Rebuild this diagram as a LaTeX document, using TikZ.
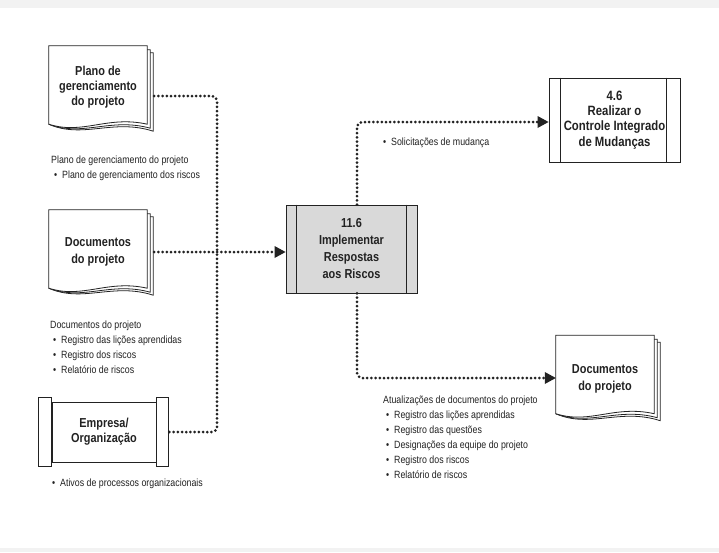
\documentclass[tikz,border=0pt]{standalone}
\usepackage{fontspec}
\setmainfont{Liberation Sans}
\newfontfamily\cond[FakeStretch=0.84]{Liberation Sans}
\usetikzlibrary{arrows.meta,calc}
\definecolor{ink}{HTML}{222222}
\definecolor{band}{HTML}{F2F2F2}
\definecolor{procfill}{HTML}{D9D9D9}
\newcommand\docpages[1]{%
  \draw[ink,line width=0.8pt,fill=white]
    (#1.south west) .. controls ($(#1.south west)+(34,15)$) and ($(#1.south east)+(-34,-6)$) .. ($(#1.south east)+(6,7)$)
    -- ($(#1.north east)+(6,7)$) -- ($(#1.north east)+(0,7)$);
  \draw[ink,line width=0.8pt,fill=white]
    (#1.south west) .. controls ($(#1.south west)+(34,13)$) and ($(#1.south east)+(-37,-7)$) .. ($(#1.south east)+(3,4)$)
    -- ($(#1.north east)+(3,4)$) -- ($(#1.north east)+(0,4)$);
  \draw[ink,line width=0.8pt,fill=white]
    (#1.south west) .. controls ($(#1.south west)+(34,11)$) and ($(#1.south east)+(-40,-9)$) .. (#1.south east)
    -- (#1.north east) -- (#1.north west) -- cycle;
}
\tikzset{
  titletext/.style={font=\cond\bfseries\fontsize{13}{15}\selectfont, text=ink, align=center, inner sep=0pt},
  doctitle/.style={titletext, minimum width=98pt, minimum height=78pt},
  itemtext/.style={font=\cond\fontsize{10.5}{15}\selectfont, text=ink, align=left, inner sep=0pt, anchor=north west},
  dotline/.style={ink, line width=3pt, line cap=round, dash pattern=on 0pt off 4.2pt, rounded corners=5pt},
  tip/.style={-{Triangle[length=11pt,width=12pt,line width=0pt]}},
  boxline/.style={ink, line width=0.9pt},
}
\newcommand\bul{\hspace*{3pt}\makebox[8pt][l]{\textbullet}}
\begin{document}
\begin{tikzpicture}[x=1pt,y=-1pt]
\useasboundingbox (0,0) rectangle (719,552);
\fill[white] (0,0) rectangle (719,552);
\fill[band] (0,0) rectangle (719,8);
\fill[band] (0,548) rectangle (719,552);

% documents
\node[doctitle] (d1) at (98,85) {};
\docpages{d1}
\node[titletext] (d1t) at (98,87) {Plano de\\gerenciamento\\do projeto};

\node[doctitle] (d2) at (98,249) {};
\docpages{d2}
\node[titletext, align=center] (d2t) at (98,252) {Documentos\\[2pt]do projeto};

\node[doctitle] (d3) at (605,374.5) {};
\docpages{d3}
\node[titletext] (d3t) at (605,379) {Documentos\\[2pt]do projeto};

% empresa
\node[titletext, draw=ink, line width=0.9pt, minimum width=104pt, minimum height=60pt] (emp) at (104,432) {Empresa/\\Organização};
\draw[boxline] ($(emp.north west)+(-13,-4)$) rectangle ($(emp.south west)+(0,4)$);
\draw[boxline] ($(emp.north east)+(0,-4)$) rectangle ($(emp.south east)+(12,4)$);

% process 11.6
\node[titletext, draw=ink, fill=procfill, line width=0.9pt, minimum width=131pt, minimum height=88pt, font=\cond\bfseries\fontsize{13}{17}\selectfont] (p) at (351.5,249) {11.6\\Implementar\\Respostas\\aos Riscos};
\draw[boxline] ($(p.north west)+(11,0)$) -- ($(p.south west)+(11,0)$);
\draw[boxline] ($(p.north east)+(-11,0)$) -- ($(p.south east)+(-11,0)$);
\draw[ink, line width=1.8pt] (p.south west) -- (p.south east);

% box 4.6
\node[titletext, draw=ink, line width=0.9pt, minimum width=131pt, minimum height=84pt, font=\cond\bfseries\fontsize{13.5}{15.3}\selectfont] (b) at (614.5,120) {4.6\\Realizar o\\Controle Integrado\\de Mudanças};
\draw[boxline] ($(b.north west)+(12,0)$) -- ($(b.south west)+(12,0)$);
\draw[boxline] ($(b.north east)+(-14,0)$) -- ($(b.south east)+(-14,0)$);

% connectors
\coordinate (j1) at (217,96);
\coordinate (J) at (217,252);
\coordinate (je) at (217,432);
\coordinate (up) at (357,122);
\coordinate (dn) at (357,378);
\draw[dotline] ([xshift=7pt]d1.east |- j1) -- (j1) -- (J);
\draw[dotline] ([xshift=13pt]emp.east |- je) -- (je) -- (J);
\draw[dotline, tip] ([xshift=7pt]d2.east |- J) -- (p.west |- J);
\draw[dotline, tip] (p.north -| up) -- (up) -- (b.west |- up);
\draw[dotline, tip] (p.south -| dn) -- (dn) -- (d3.west |- dn);

% labels
\node[itemtext] (l1) at (51,156) {Plano de gerenciamento do projeto\\\bul Plano de gerenciamento dos riscos};
\node[itemtext] (l2) at (50,321) {Documentos do projeto\\\bul Registro das lições aprendidas\\\bul Registro dos riscos\\\bul Relatório de riscos};
\node[itemtext] (l3) at (49,479) {\bul Ativos de processos organizacionais};
\node[itemtext] (l4) at (380,138) {\bul Solicitações de mudança};
\node[itemtext] (l5) at (383,396) {Atualizações de documentos do projeto\\\bul Registro das lições aprendidas\\\bul Registro das questões\\\bul Designações da equipe do projeto\\\bul Registro dos riscos\\\bul Relatório de riscos};
\end{tikzpicture}
\end{document}
